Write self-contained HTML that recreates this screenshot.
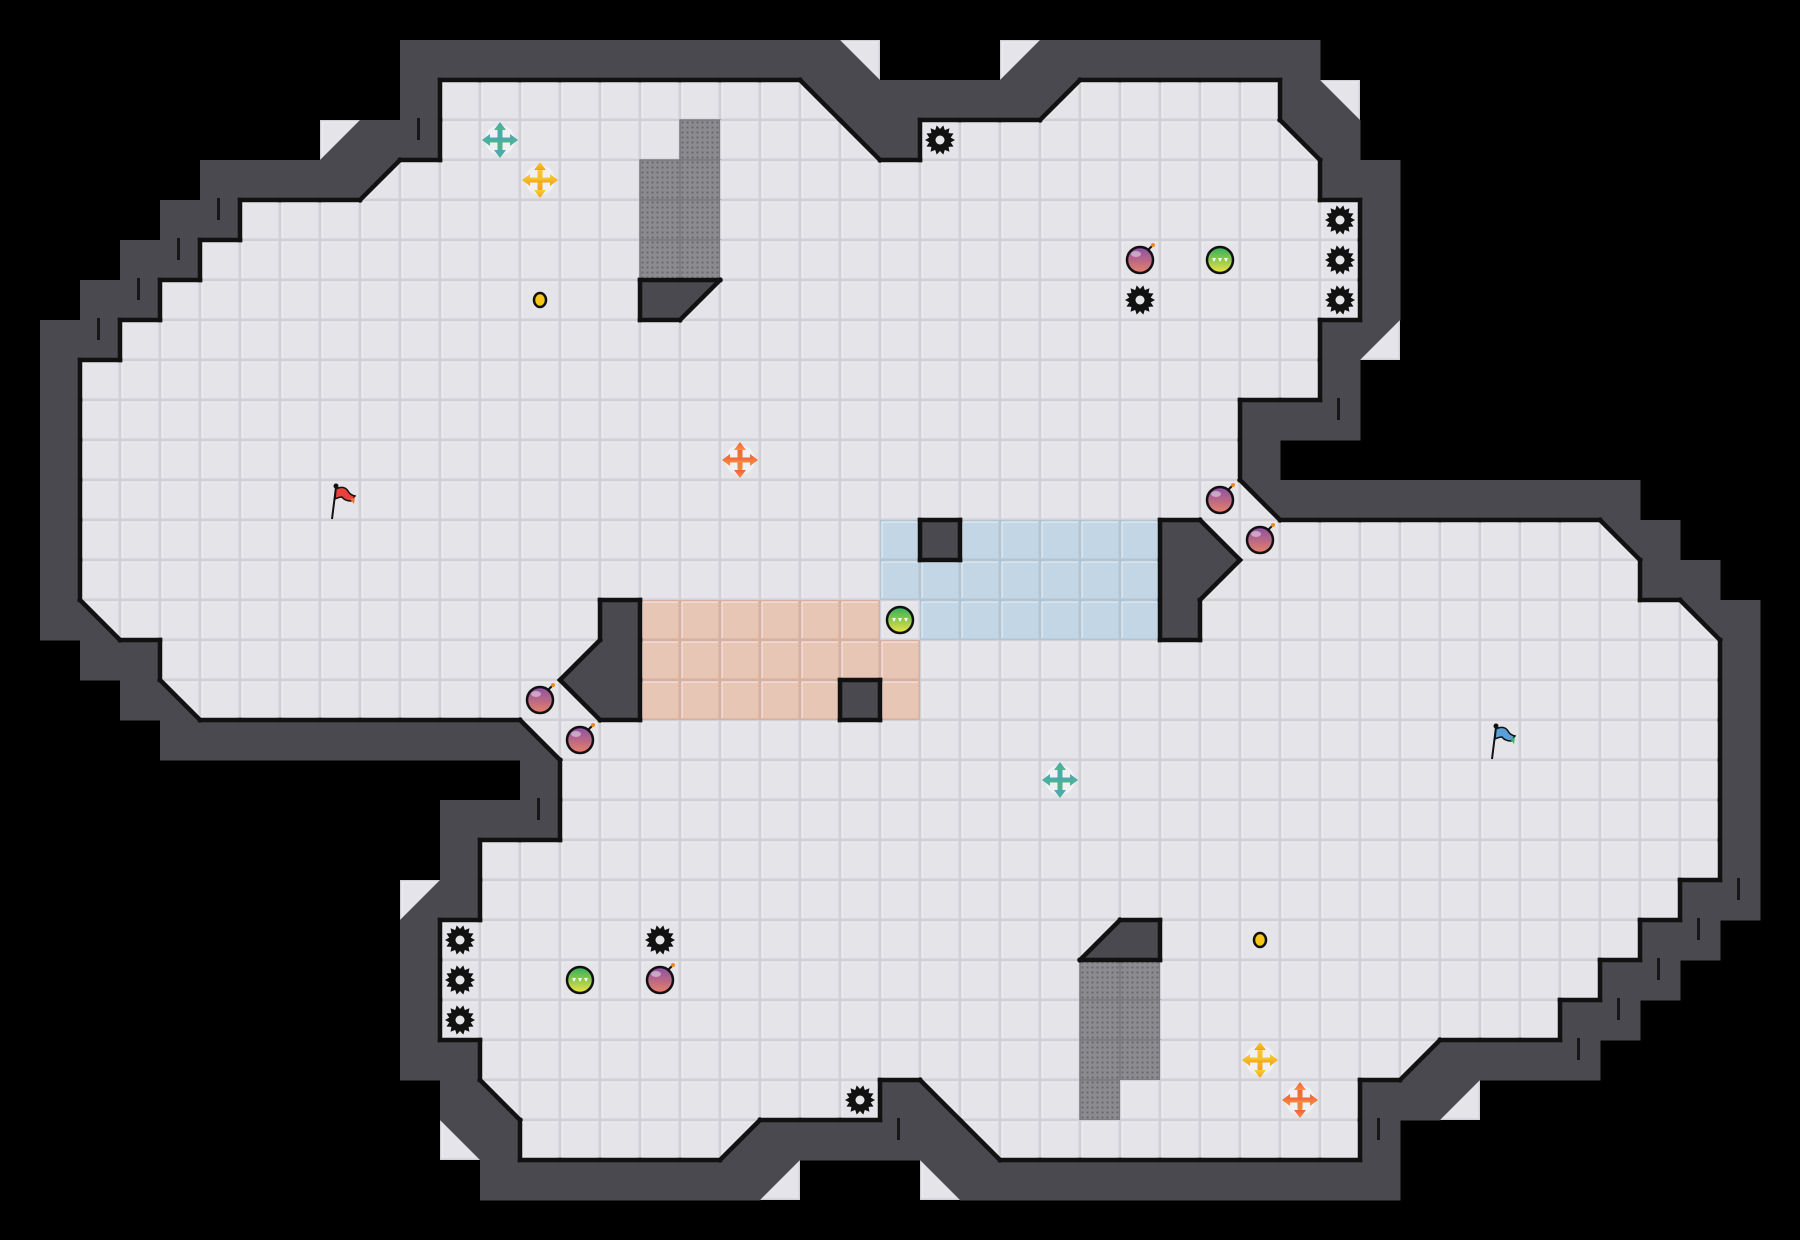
<!DOCTYPE html>
<html><head><meta charset="utf-8">
<style>
html,body{margin:0;padding:0;background:#000;width:1800px;height:1240px;overflow:hidden}
svg{display:block}
</style></head>
<body>
<svg id="s" width="1800" height="1240" viewBox="0 0 1800 1240" xmlns="http://www.w3.org/2000/svg">
<defs>
<linearGradient id="gp" x1="0" y1="0" x2="0" y2="1"><stop offset="0" stop-color="#8b4fa6"/><stop offset="1" stop-color="#e88068"/></linearGradient>
<linearGradient id="gg" x1="0" y1="0" x2="0" y2="1"><stop offset="0" stop-color="#2fae5a"/><stop offset="1" stop-color="#f0e443"/></linearGradient>
<linearGradient id="ct" x1="0" y1="0" x2="0" y2="1"><stop offset="0" stop-color="#4aa6b8"/><stop offset="1" stop-color="#4fb686"/></linearGradient>
<linearGradient id="cy" x1="0" y1="0" x2="0" y2="1"><stop offset="0" stop-color="#f5d030"/><stop offset="1" stop-color="#f5a020"/></linearGradient>
<linearGradient id="co" x1="0" y1="0" x2="0" y2="1"><stop offset="0" stop-color="#f0603a"/><stop offset="1" stop-color="#f59040"/></linearGradient>
<pattern id="dots" width="5" height="5" patternUnits="userSpaceOnUse"><rect width="5" height="5" fill="#8c8c90"/><rect x="1.5" y="1.5" width="2" height="2" fill="#6a6a6e"/></pattern>
</defs>
<g id="map"></g>
</svg>
<script>
var R=31,C=45,g=[];
for(var r=0;r<R;r++){g.push([]);for(var c=0;c<C;c++)g[r].push(' ');}
function S(r,a,b,t){for(var c=a;c<=b;c++)g[r][c]=t;}
function P(r,c,t){g[r][c]=t;}
S(1,10,20,'#');P(1,21,'d');P(1,25,'c');S(1,26,32,'#');
P(2,10,'#');S(2,11,19,'.');P(2,20,'b');S(2,21,25,'#');P(2,26,'a');S(2,27,31,'.');P(2,32,'#');P(2,33,'d');
P(3,8,'c');S(3,9,10,'#');S(3,11,20,'.');P(3,17,'x');P(3,21,'b');P(3,22,'#');S(3,23,31,'.');P(3,32,'b');P(3,33,'#');
S(4,5,8,'#');P(4,9,'a');S(4,10,32,'.');P(4,16,'x');P(4,17,'x');S(4,33,34,'#');
S(5,4,5,'#');S(5,6,33,'.');P(5,16,'x');P(5,17,'x');P(5,34,'#');
S(6,3,4,'#');S(6,5,33,'.');P(6,16,'x');P(6,17,'x');P(6,34,'#');
S(7,2,3,'#');S(7,4,33,'.');P(7,16,'#');P(7,17,'a');P(7,34,'#');
S(8,1,2,'#');S(8,3,32,'.');P(8,33,'#');P(8,34,'a');
P(9,1,'#');S(9,2,32,'.');P(9,33,'#');
P(10,1,'#');S(10,2,30,'.');S(10,31,33,'#');
P(11,1,'#');S(11,2,30,'.');P(11,31,'#');
P(12,1,'#');S(12,2,30,'.');P(12,31,'b');S(12,32,40,'#');
P(13,1,'#');S(13,2,21,'.');P(13,22,'u');P(13,23,'#');S(13,24,28,'u');P(13,29,'#');P(13,30,'d');S(13,31,39,'.');P(13,40,'b');P(13,41,'#');
P(14,1,'#');S(14,2,21,'.');S(14,22,28,'u');P(14,29,'#');P(14,30,'a');S(14,31,40,'.');S(14,41,42,'#');
P(15,1,'#');P(15,2,'d');S(15,3,14,'.');P(15,15,'#');S(15,16,21,'o');P(15,22,'.');S(15,23,28,'u');P(15,29,'#');S(15,30,41,'.');P(15,42,'b');P(15,43,'#');
S(16,2,3,'#');S(16,4,13,'.');P(16,14,'c');P(16,15,'#');S(16,16,22,'o');S(16,23,42,'.');P(16,43,'#');
P(17,3,'#');P(17,4,'d');S(17,5,13,'.');P(17,14,'b');P(17,15,'#');S(17,16,20,'o');P(17,21,'#');P(17,22,'o');S(17,23,42,'.');P(17,43,'#');
S(18,4,12,'#');P(18,13,'d');S(18,14,42,'.');P(18,43,'#');
P(19,13,'#');S(19,14,42,'.');P(19,43,'#');
S(20,11,13,'#');S(20,14,42,'.');P(20,43,'#');
P(21,11,'#');S(21,12,42,'.');P(21,43,'#');
P(22,10,'c');P(22,11,'#');S(22,12,41,'.');S(22,42,43,'#');
P(23,10,'#');S(23,11,40,'.');P(23,27,'c');P(23,28,'#');S(23,41,42,'#');
P(24,10,'#');S(24,11,39,'.');P(24,27,'x');P(24,28,'x');S(24,40,41,'#');
P(25,10,'#');S(25,11,38,'.');P(25,27,'x');P(25,28,'x');S(25,39,40,'#');
S(26,10,11,'#');S(26,12,34,'.');P(26,27,'x');P(26,28,'x');P(26,35,'c');S(26,36,39,'#');
P(27,11,'#');P(27,12,'d');S(27,13,21,'.');P(27,22,'#');P(27,23,'d');S(27,24,33,'.');P(27,27,'x');S(27,34,35,'#');P(27,36,'a');
P(28,11,'b');P(28,12,'#');S(28,13,17,'.');P(28,18,'c');S(28,19,23,'#');P(28,24,'d');S(28,25,33,'.');P(28,34,'#');
S(29,12,18,'#');P(29,19,'a');P(29,23,'b');S(29,24,34,'#');

var T=40,out=[];
function get(r,c){if(r<0||c<0||r>=R||c>=C)return ' ';return g[r][c];}
var isF=function(t){return '.uox'.indexOf(t)>=0;};
var isD=function(t){return 'abcd'.indexOf(t)>=0;};
var WALL='#4a494f',FL='#e5e4e9',GL='#d1d0d6';
for(var r=0;r<R;r++)for(var c=0;c<C;c++){var t=g[r][c];if(t==' '||t=='#')continue;
 var x=c*T,y=r*T,f=FL,l=GL;
 if(t=='u'){f='#c3d6e5';l='#b0c6d7';}
 if(t=='o'){f='#e8c6b6';l='#d8b09f';}
 if(t=='x'){out.push('<rect x="'+x+'" y="'+y+'" width="40" height="40" fill="url(#dots)" stroke="#7a7a7e" stroke-width="1.5"/>');continue;}
 out.push('<rect x="'+x+'" y="'+y+'" width="40" height="40" fill="'+f+'"/>');
 out.push('<rect x="'+(x+0.75)+'" y="'+(y+0.75)+'" width="38.5" height="38.5" fill="none" stroke="'+l+'" stroke-width="1.5"/>');
 out.push('<path d="M'+(x+2)+' '+(y+38)+'V'+(y+2)+'H'+(x+38)+'" fill="none" stroke="#f2f2f5" stroke-width="1"/>');
}
var tri={a:function(x,y){return [[x,y],[x+40,y],[x,y+40]];},b:function(x,y){return [[x,y],[x+40,y],[x+40,y+40]];},
c:function(x,y){return [[x+40,y],[x+40,y+40],[x,y+40]];},d:function(x,y){return [[x,y],[x,y+40],[x+40,y+40]];}};
var hyp={a:function(x,y){return [x+40,y,x,y+40];},b:function(x,y){return [x,y,x+40,y+40];},c:function(x,y){return [x+40,y,x,y+40];},d:function(x,y){return [x,y,x+40,y+40];}};
var darkE={a:'tl',b:'tr',c:'br',d:'bl'};
for(var r=0;r<R;r++)for(var c=0;c<C;c++){var t=g[r][c],x=c*T,y=r*T;
 if(t=='#')out.push('<rect x="'+x+'" y="'+y+'" width="40.5" height="40.5" fill="'+WALL+'"/>');
 else if(isD(t)){var p=tri[t](x,y);out.push('<polygon points="'+p.map(function(q){return q.join(',');}).join(' ')+'" fill="'+WALL+'"/>');}
}
var L=[];
function line(x1,y1,x2,y2){L.push('<line x1="'+x1+'" y1="'+y1+'" x2="'+x2+'" y2="'+y2+'"/>');}
function lightFacing(t,side){
 if(isF(t))return true;
 if(isD(t)){var dk={a:'tl',b:'tr',c:'br',d:'bl'}[t];return dk.indexOf(side)<0;}
 return false;}
function outer(r,c){return get(r-1,c)==' '||get(r+1,c)==' '||get(r,c-1)==' '||get(r,c+1)==' ';}
for(var r=0;r<R;r++)for(var c=0;c<C;c++){var t=g[r][c],x=c*T,y=r*T;
 if(t=='#'||isD(t)){
  var dk=t=='#'?'tlbr':darkE[t];
  if(dk.indexOf('t')>=0&&lightFacing(get(r-1,c),'b'))line(x,y,x+40,y);
  if(dk.indexOf('b')>=0&&lightFacing(get(r+1,c),'t'))line(x,y+40,x+40,y+40);
  if(dk.indexOf('l')>=0&&lightFacing(get(r,c-1),'r'))line(x,y,x,y+40);
  if(dk.indexOf('r')>=0&&lightFacing(get(r,c+1),'l'))line(x+40,y,x+40,y+40);
  if(isD(t)&&!outer(r,c)){var h=hyp[t](x,y);line(h[0],h[1],h[2],h[3]);}
 }}
out.push('<g stroke="#111" stroke-width="4.5" stroke-linecap="square">'+L.join('')+'</g>');
[[3,10],[5,5],[6,4],[7,3],[8,2],[10,33],[20,13],[22,43],[23,42],[24,41],[25,40],[26,39],[28,34],[28,22]].forEach(function(p){
 var x=p[1]*T+17,y=p[0]*T-2;out.push('<rect x="'+x+'" y="'+y+'" width="3" height="22" fill="#161618"/>');});
function cc(r,c){return [c*T+20,r*T+20];}
function gear(r,c){var p=cc(r,c),pts=[];for(var i=0;i<28;i++){var a=i*Math.PI/14,rr=i%2?11:15;pts.push((p[0]+rr*Math.cos(a)).toFixed(1)+','+(p[1]+rr*Math.sin(a)).toFixed(1));}
 out.push('<polygon points="'+pts.join(' ')+'" fill="#111"/><circle cx="'+p[0]+'" cy="'+p[1]+'" r="4.5" fill="#e5e4e9"/>');}
function pill(r,c){var p=cc(r,c);out.push('<circle cx="'+p[0]+'" cy="'+p[1]+'" r="13" fill="url(#gp)" stroke="#111" stroke-width="2.5"/><path d="M'+(p[0]+8)+' '+(p[1]-10)+'l4 -4" stroke="#111" stroke-width="2"/><circle cx="'+(p[0]+13)+'" cy="'+(p[1]-15)+'" r="2" fill="#f08a20"/><ellipse cx="'+(p[0]-4)+'" cy="'+(p[1]-6)+'" rx="5" ry="3" fill="#fff" opacity="0.45"/>');}
function gpill(r,c){var p=cc(r,c),x=p[0],y=p[1];out.push('<circle cx="'+x+'" cy="'+y+'" r="13" fill="url(#gg)" stroke="#111" stroke-width="2.5"/><path d="M'+(x-8)+' '+(y-2)+'h4l-2 4zM'+(x-2)+' '+(y-2)+'h4l-2 4zM'+(x+4)+' '+(y-2)+'h4l-2 4z" fill="#fff"/>');}
function cross(r,c,grad){var p=cc(r,c),x=p[0],y=p[1];
 out.push('<circle cx="'+x+'" cy="'+y+'" r="15" fill="#f4f4f6" opacity="0.8"/><g fill="url(#'+grad+')"><rect x="'+(x-2.5)+'" y="'+(y-12)+'" width="5" height="24"/><rect x="'+(x-12)+'" y="'+(y-2.5)+'" width="24" height="5"/>'+
 '<polygon points="'+x+','+(y-18)+' '+(x-6)+','+(y-10)+' '+(x+6)+','+(y-10)+'"/><polygon points="'+x+','+(y+18)+' '+(x-6)+','+(y+10)+' '+(x+6)+','+(y+10)+'"/>'+
 '<polygon points="'+(x-18)+','+y+' '+(x-10)+','+(y-6)+' '+(x-10)+','+(y+6)+'"/><polygon points="'+(x+18)+','+y+' '+(x+10)+','+(y-6)+' '+(x+10)+','+(y+6)+'"/></g>');}
function dot(r,c){var p=cc(r,c);out.push('<ellipse cx="'+p[0]+'" cy="'+p[1]+'" rx="6" ry="7" fill="#f5c518" stroke="#111" stroke-width="2.5"/>');}
function flag(r,c,c1,c2){var p=cc(r,c),x=p[0],y=p[1];
 out.push('<line x1="'+(x-8)+'" y1="'+(y+19)+'" x2="'+(x-4)+'" y2="'+(y-13)+'" stroke="#111" stroke-width="2"/><circle cx="'+(x-4)+'" cy="'+(y-14)+'" r="2.5" fill="#111"/>'+
 '<path d="M'+(x-4)+' '+(y-11)+'q8 -4 12 2q2 4 7 5l-4 5q-6 0-9-4q-3 0-7 2z" fill="'+c1+'" stroke="#111" stroke-width="1.5"/><path d="M'+(x+10)+' '+(y-1)+'l5 -2l-1 7z" fill="'+c2+'"/>');}
[[3,23],[5,33],[6,33],[7,33],[7,28],[23,11],[24,11],[25,11],[23,16],[27,21]].forEach(function(p){gear(p[0],p[1]);});
[[6,28],[12,30],[13,31],[17,13],[18,14],[24,16]].forEach(function(p){pill(p[0],p[1]);});
[[6,30],[15,22],[24,14]].forEach(function(p){gpill(p[0],p[1]);});
cross(3,12,'ct');cross(4,13,'cy');cross(11,18,'co');cross(19,26,'ct');cross(26,31,'cy');cross(27,32,'co');
dot(7,13);dot(23,31);
flag(12,8,'#e8403a','#f07030');flag(18,37,'#5aa0d8','#40b070');
document.getElementById('map').innerHTML=out.join('');
</script>
</body></html>
